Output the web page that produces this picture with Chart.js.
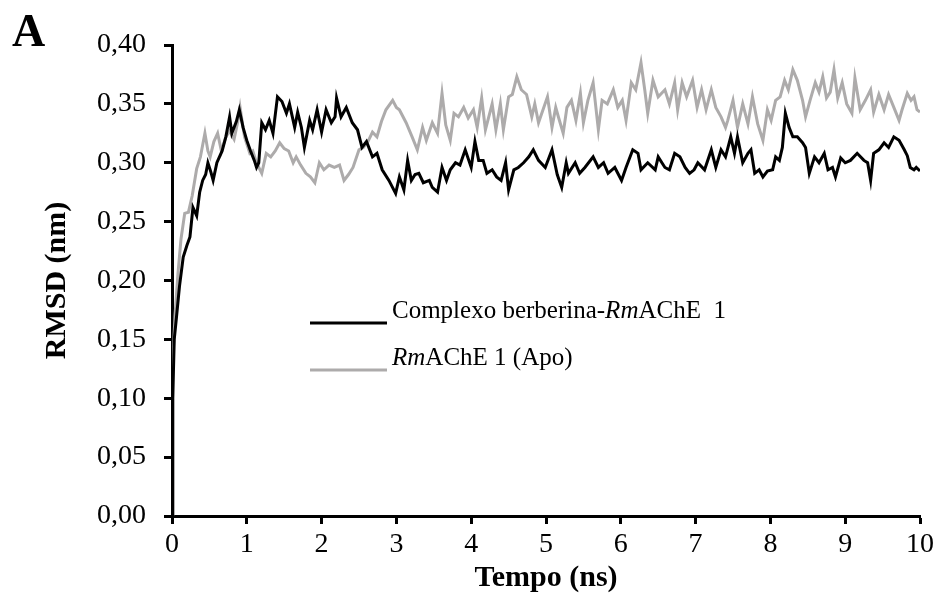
<!DOCTYPE html>
<html lang="pt">
<head>
  <meta charset="UTF-8">
  <title>RMSD</title>
  <style>
    html, body { margin: 0; padding: 0; background: #fff; }
    #rmsdChart { display: block; }
  </style>
</head>
<body>
<canvas id="rmsdChart" width="938" height="596"></canvas>

<script src="https://cdn.jsdelivr.net/npm/chart.js"></script>
<script>
  // valores (tempo em ns, RMSD em nm)
  const complexoTempo = [
    0, 0.01, 0.03, 0.06, 0.10, 0.15, 0.20, 0.24, 0.28, 0.33,
    0.37, 0.41, 0.45, 0.48, 0.52, 0.55, 0.60, 0.67, 0.72, 0.77,
    0.80, 0.86, 0.90, 0.95, 1.00, 1.05, 1.10, 1.13, 1.16, 1.20,
    1.25, 1.30, 1.35, 1.41, 1.47, 1.53, 1.57, 1.64, 1.68, 1.73,
    1.77, 1.84, 1.88, 1.94, 2.00, 2.06, 2.13, 2.18, 2.20, 2.26,
    2.33, 2.41, 2.48, 2.54, 2.60, 2.68, 2.74, 2.81, 2.90, 2.99,
    3.04, 3.10, 3.15, 3.20, 3.25, 3.30, 3.36, 3.44, 3.48, 3.55,
    3.61, 3.67, 3.72, 3.79, 3.85, 3.92, 4.00, 4.05, 4.10, 4.16,
    4.21, 4.28, 4.34, 4.40, 4.46, 4.50, 4.57, 4.63, 4.70, 4.77,
    4.83, 4.90, 4.99, 5.08, 5.15, 5.21, 5.27, 5.30, 5.39, 5.45,
    5.52, 5.63, 5.70, 5.77, 5.83, 5.92, 6.01, 6.07, 6.16, 6.23,
    6.27, 6.36, 6.46, 6.50, 6.59, 6.65, 6.72, 6.79, 6.86, 6.92,
    6.98, 7.03, 7.12, 7.21, 7.27, 7.34, 7.40, 7.47, 7.52, 7.56,
    7.63, 7.70, 7.74, 7.79, 7.85, 7.90, 7.96, 8.03, 8.07, 8.12,
    8.16, 8.20, 8.25, 8.30, 8.36, 8.43, 8.47, 8.52, 8.59, 8.65,
    8.72, 8.77, 8.83, 8.87, 8.94, 9.00, 9.07, 9.16, 9.25, 9.30,
    9.34, 9.38, 9.45, 9.52, 9.58, 9.65, 9.72, 9.79, 9.83, 9.87,
    9.92, 9.95, 10.0
  ];
  const complexoRmsd = [
    0, 0.10, 0.15, 0.169, 0.195, 0.22, 0.23, 0.237, 0.262, 0.255,
    0.275, 0.285, 0.29, 0.30, 0.292, 0.285, 0.30, 0.31, 0.322, 0.339,
    0.325, 0.335, 0.345, 0.33, 0.319, 0.31, 0.302, 0.296, 0.30, 0.334,
    0.328, 0.336, 0.325, 0.356, 0.352, 0.342, 0.35, 0.33, 0.343, 0.33,
    0.313, 0.336, 0.328, 0.345, 0.326, 0.345, 0.334, 0.339, 0.355, 0.339,
    0.347, 0.334, 0.328, 0.313, 0.318, 0.305, 0.308, 0.294, 0.285, 0.274,
    0.288, 0.277, 0.302, 0.285, 0.29, 0.291, 0.283, 0.285, 0.279, 0.275,
    0.296, 0.285, 0.294, 0.30, 0.298, 0.311, 0.296, 0.318, 0.302, 0.302,
    0.291, 0.294, 0.288, 0.285, 0.30, 0.277, 0.294, 0.296, 0.30, 0.305,
    0.311, 0.302, 0.296, 0.311, 0.29, 0.279, 0.30, 0.291, 0.30, 0.291,
    0.296, 0.305, 0.296, 0.30, 0.291, 0.296, 0.285, 0.296, 0.311, 0.308,
    0.294, 0.30, 0.294, 0.305, 0.296, 0.294, 0.308, 0.305, 0.296, 0.291,
    0.294, 0.30, 0.294, 0.311, 0.296, 0.311, 0.305, 0.322, 0.308, 0.322,
    0.30, 0.308, 0.311, 0.291, 0.294, 0.288, 0.293, 0.294, 0.305, 0.302,
    0.313, 0.342, 0.33, 0.322, 0.322, 0.317, 0.313, 0.291, 0.305, 0.30,
    0.308, 0.294, 0.296, 0.288, 0.304, 0.30, 0.302, 0.308, 0.302, 0.30,
    0.285, 0.308, 0.311, 0.317, 0.313, 0.322, 0.319, 0.311, 0.306, 0.296,
    0.294, 0.296, 0.293
  ];

  const apoTempo = [
    0, 0.01, 0.04, 0.08, 0.12, 0.17, 0.22, 0.27, 0.33, 0.38,
    0.44, 0.48, 0.51, 0.56, 0.61, 0.66, 0.72, 0.77, 0.83, 0.88,
    0.91, 0.95, 0.97, 1.04, 1.08, 1.13, 1.20, 1.26, 1.32, 1.38,
    1.44, 1.50, 1.56, 1.62, 1.66, 1.72, 1.79, 1.85, 1.91, 1.97,
    2.03, 2.10, 2.17, 2.24, 2.30, 2.36, 2.42, 2.50, 2.56, 2.62,
    2.68, 2.74, 2.80, 2.86, 2.95, 3.00, 3.04, 3.13, 3.21, 3.28,
    3.35, 3.40, 3.48, 3.55, 3.61, 3.66, 3.72, 3.77, 3.83, 3.90,
    3.96, 4.03, 4.08, 4.14, 4.19, 4.28, 4.33, 4.39, 4.43, 4.50,
    4.55, 4.61, 4.67, 4.74, 4.81, 4.85, 4.90, 4.96, 5.02, 5.08,
    5.13, 5.17, 5.23, 5.28, 5.34, 5.40, 5.46, 5.50, 5.56, 5.63,
    5.70, 5.75, 5.82, 5.90, 5.96, 6.02, 6.07, 6.14, 6.20, 6.27,
    6.32, 6.36, 6.43, 6.50, 6.59, 6.65, 6.72, 6.76, 6.82, 6.88,
    6.96, 7.02, 7.08, 7.14, 7.21, 7.27, 7.34, 7.40, 7.43, 7.50,
    7.56, 7.63, 7.70, 7.76, 7.83, 7.90, 7.96, 8.01, 8.07, 8.13,
    8.19, 8.24, 8.30, 8.36, 8.43, 8.47, 8.53, 8.60, 8.65, 8.70,
    8.75, 8.80, 8.85, 8.90, 8.96, 9.02, 9.09, 9.13, 9.20, 9.27,
    9.34, 9.38, 9.45, 9.52, 9.58, 9.65, 9.72, 9.76, 9.83, 9.88,
    9.92, 9.96, 10.0
  ];
  const apoRmsd = [
    0, 0.13, 0.17, 0.206, 0.235, 0.257, 0.258, 0.272, 0.295, 0.305,
    0.325, 0.31, 0.305, 0.318, 0.325, 0.31, 0.322, 0.327, 0.32, 0.335,
    0.347, 0.33, 0.322, 0.308, 0.31, 0.30, 0.291, 0.308, 0.305, 0.31,
    0.317, 0.312, 0.31, 0.30, 0.305, 0.298, 0.291, 0.288, 0.283, 0.30,
    0.294, 0.298, 0.296, 0.298, 0.285, 0.29, 0.296, 0.311, 0.313, 0.318,
    0.326, 0.322, 0.335, 0.345, 0.353, 0.347, 0.345, 0.334, 0.322, 0.311,
    0.33, 0.319, 0.334, 0.325, 0.359, 0.332, 0.319, 0.342, 0.339, 0.347,
    0.338, 0.345, 0.33, 0.355, 0.328, 0.35, 0.328, 0.35, 0.328, 0.356,
    0.358, 0.373, 0.362, 0.358, 0.339, 0.35, 0.334, 0.345, 0.356, 0.33,
    0.347, 0.338, 0.325, 0.347, 0.353, 0.336, 0.359, 0.334, 0.353, 0.368,
    0.328, 0.353, 0.35, 0.362, 0.347, 0.353, 0.336, 0.368, 0.362, 0.385,
    0.362, 0.342, 0.37, 0.356, 0.362, 0.35, 0.368, 0.345, 0.368, 0.356,
    0.37, 0.347, 0.362, 0.345, 0.362, 0.347, 0.339, 0.33, 0.336, 0.353,
    0.33, 0.35, 0.333, 0.356, 0.333, 0.319, 0.345, 0.336, 0.353, 0.356,
    0.37, 0.362, 0.379, 0.37, 0.353, 0.339, 0.353, 0.368, 0.36, 0.373,
    0.355, 0.36, 0.379, 0.355, 0.368, 0.35, 0.342, 0.372, 0.345, 0.353,
    0.362, 0.343, 0.358, 0.345, 0.358, 0.347, 0.336, 0.345, 0.359, 0.353,
    0.356, 0.345, 0.343
  ];

  const xTicks = [0, 1, 2, 3, 4, 5, 6, 7, 8, 9, 10];
  const yTicks = [0, 0.05, 0.10, 0.15, 0.20, 0.25, 0.30, 0.35, 0.40];

  const serif = "'Liberation Serif', 'Times New Roman', serif";
  const corComplexo = '#000000';
  const corApo = '#adabab';

  function pares(tempo, rmsd) {
    return tempo.map((t, i) => ({ x: t, y: rmsd[i] }));
  }

  // legenda desenhada a mao por causa do "Rm" em italico
  const legendaTexto = {
    id: 'legendaTexto',
    afterDraw(chart) {
      const c = chart.ctx;
      const linhas = [
        { cor: corComplexo, yLinha: 323, yTexto: 318, partes: [['Complexo berberina-', false], ['Rm', true], ['AChE  1', false]] },
        { cor: corApo, yLinha: 370, yTexto: 365, partes: [['Rm', true], ['AChE 1 (Apo)', false]] }
      ];
      c.save();
      linhas.forEach(l => {
        c.strokeStyle = l.cor;
        c.lineWidth = 3;
        c.beginPath();
        c.moveTo(310, l.yLinha);
        c.lineTo(387, l.yLinha);
        c.stroke();
        let x = 392;
        c.fillStyle = '#000';
        c.textBaseline = 'alphabetic';
        l.partes.forEach(p => {
          c.font = (p[1] ? 'italic ' : '') + '25px ' + serif;
          c.fillText(p[0], x, l.yTexto);
          x += c.measureText(p[0]).width;
        });
      });
      // letra do painel
      c.font = 'bold 46px ' + serif;
      c.fillText('A', 12, 46);
      c.restore();
    }
  };

  const ctx = document.getElementById('rmsdChart');

  const rmsdChart = new Chart(ctx, {
    type: 'line',
    data: {
      datasets: [{
        label: 'Complexo berberina-RmAChE 1',
        data: pares(complexoTempo, complexoRmsd),
        borderColor: corComplexo,
        borderWidth: 3,
        pointRadius: 0,
        tension: 0
      }, {
        label: 'RmAChE 1 (Apo)',
        data: pares(apoTempo, apoRmsd),
        borderColor: corApo,
        borderWidth: 3,
        pointRadius: 0,
        tension: 0
      }]
    },
    options: {
      responsive: false,
      maintainAspectRatio: false,
      animation: false,
      layout: {
        padding: { left: 0, right: 15, top: 45, bottom: 0 }
      },
      plugins: {
        legend: { display: false },
        tooltip: { enabled: false }
      },
      scales: {
        x: {
          type: 'linear',
          min: 0,
          max: 10,
          afterBuildTicks: s => { s.ticks = xTicks.map(v => ({ value: v })); },
          afterFit: s => { s.height = 80; },
          ticks: {
            color: '#000',
            font: { family: serif, size: 28 },
            padding: 4
          },
          grid: {
            display: true,
            drawOnChartArea: false,
            tickLength: 8,
            tickWidth: 3,
            tickColor: '#000'
          },
          border: { color: '#000', width: 3 },
          title: {
            display: true,
            text: 'Tempo (ns)',
            color: '#000',
            font: { family: serif, size: 30, weight: 'bold' },
            padding: { top: 1, bottom: 0 }
          }
        },
        y: {
          min: 0,
          max: 0.40,
          afterBuildTicks: s => { s.ticks = yTicks.map(v => ({ value: v })); },
          afterFit: s => { s.width = 172; },
          ticks: {
            color: '#000',
            font: { family: serif, size: 28 },
            padding: 18,
            callback: v => v.toFixed(2).replace('.', ',')
          },
          grid: {
            display: true,
            drawOnChartArea: false,
            tickLength: 8,
            tickWidth: 3,
            tickColor: '#000'
          },
          border: { color: '#000', width: 3 },
          title: {
            display: true,
            text: 'RMSD (nm)',
            color: '#000',
            font: { family: serif, size: 30, weight: 'bold' },
            padding: { top: 39, bottom: 0 }
          }
        }
      }
    },
    plugins: [legendaTexto]
  });
</script>
</body>
</html>
